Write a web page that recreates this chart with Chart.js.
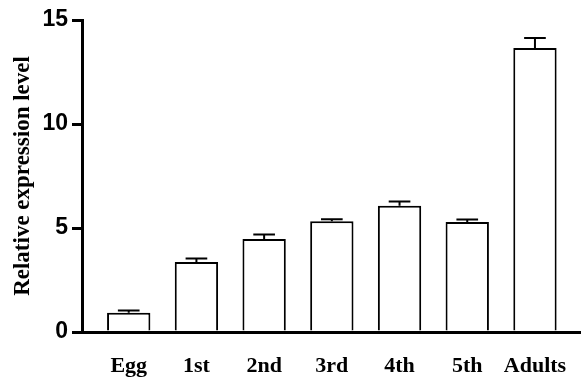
<!DOCTYPE html>
<html>
<head>
<meta charset="utf-8">
<script src="https://cdn.jsdelivr.net/npm/chart.js@4/dist/chart.umd.min.js"></script>
<style>
  html, body { margin: 0; padding: 0; background: #fff; }
  #wrap { width: 581px; height: 378px; }
</style>
</head>
<body>
<div id="wrap"><canvas id="bar-chart-expr"></canvas></div>
<script>
// 단계별 라벨, 평균값, 오차(SD)
var stages = ['Egg', '1st', '2nd', '3rd', '4th', '5th', 'Adults'];
var means = [0.93, 3.37, 4.47, 5.32, 6.07, 5.29, 13.65];
var errors = [0.1, 0.16, 0.22, 0.1, 0.2, 0.12, 0.48];
var yTicks = [0, 5, 10, 15];

var black = '#000';

// 에러바 그리기 (위쪽만)
var errorBars = {
  id: 'errorBars',
  afterDatasetsDraw: function(chart) {
    var ctx = chart.ctx;
    var yScale = chart.scales.y;
    var meta = chart.getDatasetMeta(0);
    ctx.save();
    ctx.strokeStyle = black;
    ctx.lineWidth = 2;
    meta.data.forEach(function(bar, i) {
      var top = yScale.getPixelForValue(means[i] + errors[i]);
      var half = bar.width / 4;
      ctx.beginPath();
      ctx.moveTo(bar.x, bar.y);
      ctx.lineTo(bar.x, top);
      ctx.moveTo(bar.x - half, top);
      ctx.lineTo(bar.x + half, top);
      ctx.stroke();
    });
    ctx.restore();
  }
};

new Chart(document.getElementById('bar-chart-expr'), {
  type: 'bar',
  data: {
    datasets: [{
      data: means.map(function(v, i) { return { x: i, y: v }; }),
      backgroundColor: '#fff',
      borderColor: black,
      borderWidth: 2,
      barPercentage: 0.64,
      categoryPercentage: 1
    }]
  },
  options: {
    responsive: true,
    maintainAspectRatio: false,
    animation: false,
    layout: { padding: { top: 20, left: 0, right: 0, bottom: 0 } },
    plugins: {
      legend: { display: false },
      tooltip: { enabled: false }
    },
    scales: {
      x: {
        type: 'linear',
        offset: false,
        min: -0.69,
        max: 6.68,
        afterBuildTicks: function(scale) {
          scale.ticks = stages.map(function(s, i) { return { value: i }; });
        },
        afterFit: function(scale) {
          scale.height = 46;
          scale.paddingLeft = 0;
          scale.paddingRight = 0;
        },
        grid: { display: true, offset: false, drawOnChartArea: false, drawTicks: false, color: 'rgba(0,0,0,0)' },
        border: { display: true, color: black, width: 3 },
        ticks: {
          color: black,
          padding: 21,
          autoSkip: false,
          maxRotation: 0,
          font: { family: 'Liberation Serif', weight: 'bold', size: 22 },
          callback: function(v) { return stages[v]; }
        }
      },
      y: {
        min: 0,
        max: 15,
        afterBuildTicks: function(scale) {
          scale.ticks = yTicks.map(function(v) { return { value: v }; });
        },
        afterFit: function(scale) { scale.width = 82; },
        grid: { display: true, drawOnChartArea: false, drawTicks: true, tickLength: 10, color: black, lineWidth: 3 },
        border: { display: true, color: black, width: 3 },
        ticks: {
          color: black,
          padding: 4,
          font: { family: 'Liberation Sans', weight: 'bold', size: 23 }
        },
        title: {
          display: true,
          text: 'Relative expression level',
          color: black,
          padding: { top: 9, bottom: 0 },
          font: { family: 'Liberation Serif', weight: 'bold', size: 23 }
        }
      }
    }
  },
  plugins: [errorBars]
});
</script>
</body>
</html>
